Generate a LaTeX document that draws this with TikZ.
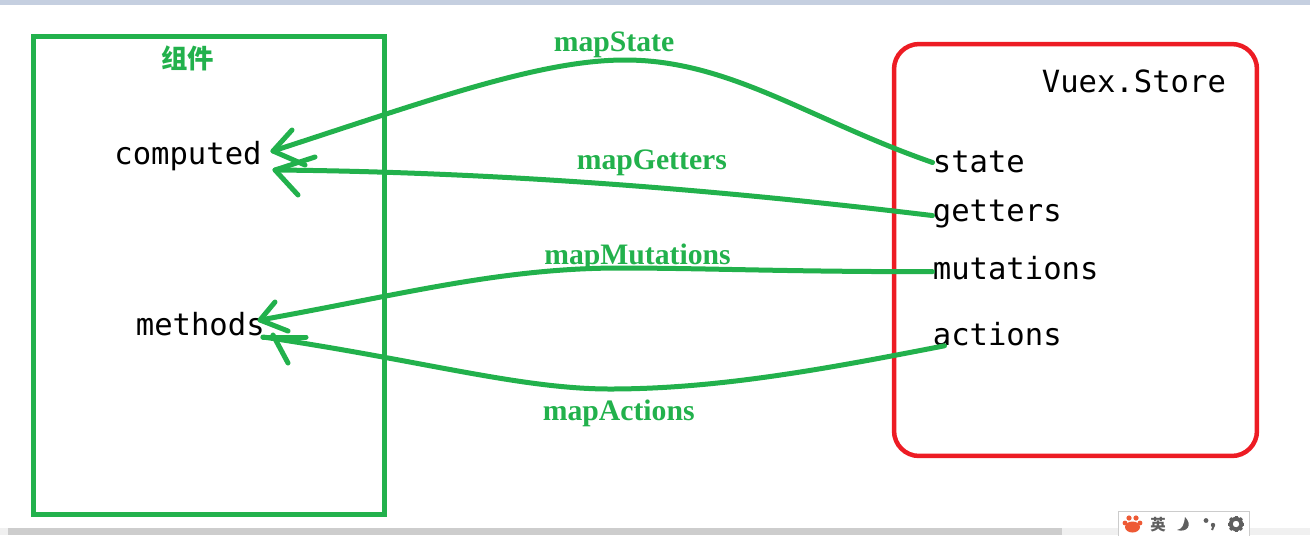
\documentclass[tikz,border=0pt]{standalone}
\usepackage{fontspec}
\setmainfont{Liberation Serif}
\setmonofont{DejaVu Sans Mono}
\newfontfamily\cjk{Noto Sans CJK SC}
\newfontfamily\symbolfont{DejaVu Sans}
\usetikzlibrary{positioning}
\definecolor{vgreen}{HTML}{22B14C}
\definecolor{vred}{HTML}{ED1C24}
\definecolor{topbar}{HTML}{C5CFE0}
\definecolor{scrolltrack}{HTML}{F0F0F0}
\definecolor{scrollthumb}{HTML}{CDCDCD}
\definecolor{toolgrey}{HTML}{5F5F5F}
\definecolor{pawred}{HTML}{EE5A35}

\begin{document}
\begin{tikzpicture}[
            x=0.02cm, y=-0.02cm,
            compbox/.style={rectangle, draw=vgreen, line width=0.1cm,
                minimum width=7.04cm, minimum height=9.58cm},
            storebox/.style={rectangle, draw=vred, line width=0.09cm, rounded corners=0.5cm,
                minimum width=7.26cm, minimum height=8.24cm},
            code/.style={anchor=base west, inner sep=0pt, font=\ttfamily\fontsize{17.4}{20}\selectfont},
            maplabel/.style={anchor=base west, inner sep=0pt, text=vgreen, font=\bfseries\fontsize{16.9}{20}\selectfont},
            flow/.style={draw=vgreen, line width=0.1cm, line cap=round, line join=round}
        ]
            \useasboundingbox (0,0) rectangle (1310,535);
            % browser edges
            \fill [topbar] (0,0) rectangle (1310,5);
            \fill [scrolltrack] (0,528) rectangle (1310,535);
            \fill [scrollthumb] (8,528) rectangle (1062,535);

            % boxes
            \node [compbox] (component) at (209,275.5) {};
            \node [storebox] (store) at (1075.5,250) {};
            \node [anchor=base, inner sep=0pt, text=vgreen, font=\cjk\bfseries\fontsize{15}{18}\selectfont] (title) at (187.5,68) {组件};

            % texts
            \node [code] (computed) at (114,164) {computed};
            \node [code] (methods) at (135.5,335) {methods};
            \node [code] (vuex) at (1041.5,92) {Vuex.Store};
            \node [code] (state) at (932.5,172) {state};
            \node [code] (getters) at (932.5,221) {getters};
            \node [code] (mutations) at (932.5,279) {mutations};
            \node [code] (actions) at (932.5,345) {actions};

            \node [maplabel] (mapstate) at (553.5,51) {mapState};
            \node [maplabel] (mapgetters) at (576.5,169) {mapGetters};
            \node [maplabel] (mapmutations) at (544,264) {mapMutations};
            \node [maplabel] (mapactions) at (542.5,420) {mapActions};

            % arrow tips
            \coordinate (tipstate) at (273,151);
            \coordinate (tipgetters) at (275,170);
            \coordinate (tipmutations) at (260,320);
            \coordinate (tipactions) at (263,337);

            % curves
            \draw [flow] ([yshift=-0.02cm]state.west) .. controls (810,120) and (730,60) .. (625,60)
                .. controls (540,60) and (430,100) .. (tipstate);
            \draw [flow] ([yshift=-0.04cm]getters.west) .. controls (720,190) and (500,172) .. (tipgetters);
            \draw [flow] ([yshift=-0.08cm]mutations.west) .. controls (800,272) and (700,268) .. (620,268)
                .. controls (500,268) and (400,295) .. (tipmutations);
            \draw [flow] ([xshift=0.24cm]actions.south west) .. controls (830,368) and (720,389) .. (610,389)
                .. controls (520,389) and (420,360) .. (tipactions);

            % hand drawn heads
            \draw [flow] (292,130) -- (tipstate) -- (305,165);
            \draw [flow] (315,157) -- (tipgetters) -- (298,195);
            \draw [flow] (275,302) -- (tipmutations) -- (288,331);
            \draw [flow] (306,337) -- (tipactions);
            \draw [flow] (273,335) -- (288,363);

            % input method toolbar
            \node [rectangle, draw=black!20, fill=white, line width=0.02cm, minimum width=2.62cm, minimum height=0.56cm] (toolbar) at (1183.5,525) {};
            \fill [pawred] (1129,518) circle (2.6) (1136,518) circle (2.6) (1125,523) circle (2.4) (1140,523) circle (2.4);
            \fill [pawred] (1132.5,527) ellipse (7.5 and 5.5);
            \node [inner sep=0pt, text=toolgrey, font=\cjk\bfseries\fontsize{8.8}{10}\selectfont] (lang) at (1158,524.5) {英};
            \fill [toolgrey] (1185,517) .. controls (1193,525) and (1187,533) .. (1177,530)
                .. controls (1183,529) and (1184,524) .. (1185,517);
            \fill [toolgrey] (1206,520.5) circle (2.4);
            \fill [toolgrey] (1213,525) circle (2.2);
            \draw [toolgrey, line width=0.04cm] (1214,525) -- (1212,530);
            \draw [toolgrey, line width=0.08cm] (1236,524) circle (5.5);
            \foreach \gearangle in {0,45,...,315}
                \draw [toolgrey, line width=0.06cm] (1236,524) ++(\gearangle:5) -- ++(\gearangle:3.2);
        \end{tikzpicture}
\end{document}
